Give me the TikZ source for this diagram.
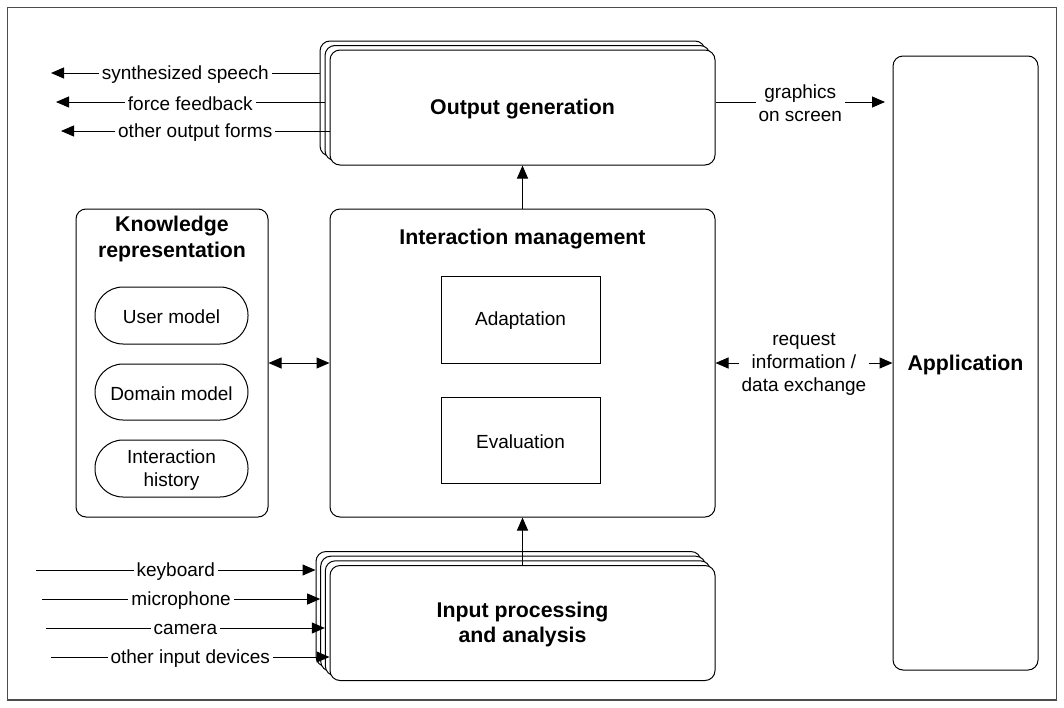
\documentclass[tikz,border=0pt]{standalone}
\usepackage{fontspec}
\setmainfont{Liberation Sans}
\usetikzlibrary{arrows.meta}
\begin{document}
\begin{tikzpicture}[x=1pt,y=-1pt,
  txt/.style={font=\fontsize{19}{23}\selectfont},
  bold/.style={font=\fontsize{21.3}{25.5}\selectfont\bfseries, align=center},
  box/.style={draw, rounded corners=10pt, fill=white, line width=1pt, inner sep=0pt, align=center},
  sq/.style={draw, fill=white, line width=1pt, inner sep=0pt, align=center},
  pill/.style={draw, rounded corners=28pt, fill=white, line width=1pt, inner sep=0pt},
  lab/.style={txt, align=center},
  tip/.tip={Triangle[length=13pt,width=11pt]},
  arr/.style={line width=1pt, -tip},
  darr/.style={line width=1pt, tip-tip},
  lbl/.style={txt, fill=white, inner xsep=3pt, inner ysep=1pt, align=center, yshift=-1.5pt}
]
\useasboundingbox (0,0) rectangle (1064,707);
\draw[line width=1.3pt, black!70] (7.5,7.5) rectangle (1056.5,700);

% output generation stack
\node[box, minimum width=385pt, minimum height=115pt] (out3) at (512.5,98.5) {};
\node[box, minimum width=385pt, minimum height=115pt] (out2) at (517.5,103) {};
\node[box, minimum width=385pt, minimum height=115pt] (og) at (522.5,107.5) {};
\node[bold] (ogt) at (522.5,109.5) {Output generation};

% input processing stack
\node[box, minimum width=385pt, minimum height=115pt] (in4) at (508.5,609) {};
\node[box, minimum width=385pt, minimum height=115pt] (in3) at (513.2,613.7) {};
\node[box, minimum width=385pt, minimum height=115pt] (in2) at (517.8,618.3) {};
\node[box, minimum width=385pt, minimum height=115pt] (ip) at (522.5,623) {};
\node[bold] (ipt) at (522.5,624.5) {Input processing\\and analysis};

% interaction management
\node[box, minimum width=385pt, minimum height=308pt] (im) at (522.5,363) {};
\node[bold] (imt) at (522.5,239) {Interaction management};
\node[sq, minimum width=159pt, minimum height=87pt] (ad) at (520.5,319.5) {};
\node[lab] (adt) at (520.5,321) {Adaptation};
\node[sq, minimum width=159pt, minimum height=86pt] (ev) at (520.5,440) {};
\node[lab] (evt) at (520.5,441.5) {Evaluation};

% knowledge representation
\node[box, minimum width=192pt, minimum height=308pt] (kr) at (172,363) {};
\node[bold] (krt) at (172,239) {Knowledge\\representation};
\node[pill, minimum width=153pt, minimum height=57pt] (um) at (171.5,315.5) {};
\node[lab] (umt) at (171.5,317) {User model};
\node[pill, minimum width=153pt, minimum height=56pt] (dm) at (171.5,392) {};
\node[lab] (dmt) at (171.5,393.5) {Domain model};
\node[pill, minimum width=153pt, minimum height=57pt] (ih) at (171.5,468.5) {};
\node[lab] (iht) at (171.5,470) {Interaction\\history};

% application
\node[box, minimum width=145pt, minimum height=614pt] (app) at (965.5,363) {};
\node[bold] (appt) at (965.5,364.5) {Application};

% connectors
\draw[arr] (im.north) -- (og.south);
\draw[arr] (ip.north) -- (im.south);
\draw[darr] (kr.east) -- (im.west);
\draw[darr] (im.east) -- (app.west) node[lbl, midway] {request\\information /\\data exchange};
\coordinate (gs) at (885,102);
\draw[arr] (og.east |- gs) -- (gs) node[lbl, midway] {graphics\\on screen};

% outputs
\coordinate (o1) at (51,73);
\coordinate (o2) at (56,102);
\coordinate (o3) at (61,131);
\draw[arr] (out3.west |- o1) -- (o1) node[lbl, midway] {synthesized speech};
\draw[arr] (out2.west |- o2) -- (o2) node[lbl, midway] {force feedback};
\draw[arr] (og.west |- o3) -- (o3) node[lbl, midway] {other output forms};

% inputs
\coordinate (i1) at (36,570);
\coordinate (i2) at (42,599);
\coordinate (i3) at (46,628);
\coordinate (i4) at (51,657);
\draw[arr] (i1) -- (in4.west |- i1) node[lbl, midway] {keyboard};
\draw[arr] (i2) -- (in3.west |- i2) node[lbl, midway] {microphone};
\draw[arr] (i3) -- (in2.west |- i3) node[lbl, midway] {camera};
\draw[arr] (i4) -- (ip.west |- i4) node[lbl, midway] {other input devices};
\end{tikzpicture}
\end{document}
